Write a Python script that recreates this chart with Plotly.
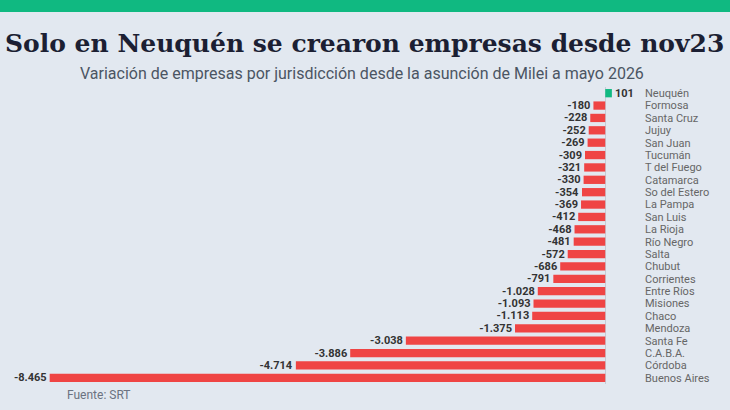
import plotly.graph_objects as go

provincias = ["Neuquén", "Formosa", "Santa Cruz", "Jujuy", "San Juan", "Tucumán",
              "T del Fuego", "Catamarca", "So del Estero", "La Pampa", "San Luis",
              "La Rioja", "Río Negro", "Salta", "Chubut", "Corrientes", "Entre Ríos",
              "Misiones", "Chaco", "Mendoza", "Santa Fe", "C.A.B.A.", "Córdoba",
              "Buenos Aires"]
variacion = [101, -180, -228, -252, -269, -309, -321, -330, -354, -369, -412,
             -468, -481, -572, -686, -791, -1028, -1093, -1113, -1375, -3038,
             -3886, -4714, -8465]

VERDE = "#10b981"
ROJO = "#ef4444"
FONDO = "#e2e8f0"

colores = [VERDE if v > 0 else ROJO for v in variacion]

fig = go.Figure()
fig.add_trace(go.Bar(
    x=variacion, y=provincias, orientation="h",
    marker=dict(color=colores, line=dict(width=0)),
    texttemplate="%{x:,d}", textposition="outside", constraintext="none",
    textfont=dict(family="Roboto", size=11, color="#333333", weight="bold"),
    cliponaxis=False, hoverinfo="skip",
))

# franja verde superior
fig.add_shape(type="rect", xref="paper", yref="paper",
              x0=-0.02, x1=1.2, y0=1.2525, y1=1.32,
              fillcolor=VERDE, line=dict(width=0))

fig.add_annotation(text="<b>Solo en Neuquén se crearon empresas desde nov23</b>",
                   xref="paper", yref="paper", x=0.563, y=1.148, yanchor="middle",
                   showarrow=False,
                   font=dict(family="DejaVu Serif", size=25, color="#1c1f33"))
fig.add_annotation(text="Variación de empresas por jurisdicción desde la asunción de Milei a mayo 2026",
                   xref="paper", yref="paper", x=0.558, y=1.044, yanchor="middle",
                   showarrow=False,
                   font=dict(family="Roboto", size=16, color="#4b5563"))
fig.add_annotation(text="Fuente: SRT", xref="paper", yref="paper",
                   x=0.09, y=-0.037, xanchor="left", yanchor="middle", showarrow=False,
                   font=dict(family="Roboto", size=12, color="#6b7280"))

fig.update_layout(
    width=730, height=410,
    margin=dict(l=8, r=88, t=87, b=26),
    paper_bgcolor=FONDO, plot_bgcolor=FONDO,
    separators=",.",
    bargap=0.33,
    showlegend=False,
)
fig.update_xaxes(range=[-9100, 560], showgrid=False, showticklabels=False,
                 zeroline=True, zerolinecolor="#c5ccd6", zerolinewidth=1)
fig.update_yaxes(side="right", autorange="reversed", showgrid=False,
                 tickmode="array", tickvals=provincias,
                 tickfont=dict(family="Roboto", size=11, color="#666666"),
                 ticks="", ticklabelstandoff=2)

fig.write_html("out.html", config={"displayModeBar": False},
               post_script="document.body.style.margin='0';")
